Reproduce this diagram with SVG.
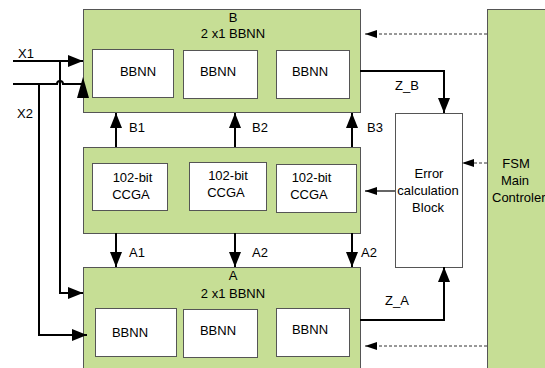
<svg xmlns="http://www.w3.org/2000/svg" width="545" height="368" viewBox="0 0 545 368">
<style>
.grn{fill:#C6DE95;stroke:#555;stroke-width:1}
.wb{fill:#fff;stroke:#555;stroke-width:1}
.t{font-family:"Liberation Sans",Arial,sans-serif;font-size:13px;fill:#000}
.m{text-anchor:middle}
.ln{fill:none;stroke:#000;stroke-width:2}
.th{fill:none;stroke:#000;stroke-width:1.2}
.ds{fill:none;stroke:#333;stroke-width:1;stroke-dasharray:3,2}
</style>
<defs>
<marker id="big" markerUnits="userSpaceOnUse" markerWidth="15" markerHeight="12" refX="15" refY="6" orient="auto"><path d="M0,0 L15,6 L0,12 z" fill="#000"/></marker>
<marker id="sm" markerUnits="userSpaceOnUse" markerWidth="12" markerHeight="8" refX="12" refY="4" orient="auto"><path d="M0,0 L12,4 L0,8 z" fill="#000"/></marker>
</defs>
<g id="nodeB">
<rect class="grn" x="83.5" y="9.5" width="277" height="103"/>
<text class="t m" x="233" y="22">B</text>
<text class="t m" x="233" y="38">2 x1 BBNN</text>
<rect class="wb" x="92.5" y="49.5" width="81" height="48"/>
<text class="t m" x="138" y="76">BBNN</text>
<rect class="wb" x="183.5" y="50.5" width="74" height="48"/>
<text class="t m" x="218" y="76">BBNN</text>
<rect class="wb" x="276.5" y="50.5" width="73" height="48"/>
<text class="t m" x="310" y="76">BBNN</text>
</g>
<g id="nodeCCGA">
<rect class="grn" x="83.5" y="147.5" width="277" height="86"/>
<rect class="wb" x="92.5" y="163.5" width="75" height="47"/>
<text class="t m" x="132.5" y="182">102-bit</text>
<text class="t m" x="131" y="199">CCGA</text>
<rect class="wb" x="189.5" y="162.5" width="77" height="48"/>
<text class="t m" x="228" y="180">102-bit</text>
<text class="t m" x="226" y="197">CCGA</text>
<rect class="wb" x="276.5" y="164.5" width="80" height="48"/>
<text class="t m" x="311.5" y="182">102-bit</text>
<text class="t m" x="309" y="199">CCGA</text>
</g>
<g id="nodeA">
<rect class="grn" x="83.5" y="267.5" width="277" height="110"/>
<text class="t m" x="233" y="280">A</text>
<text class="t m" x="233" y="298">2 x1 BBNN</text>
<rect class="wb" x="95.5" y="308.5" width="81" height="48"/>
<text class="t m" x="130" y="337">BBNN</text>
<rect class="wb" x="183.5" y="309.5" width="74" height="48"/>
<text class="t m" x="218" y="335">BBNN</text>
<rect class="wb" x="276.5" y="308.5" width="73" height="48"/>
<text class="t m" x="310" y="334">BBNN</text>
</g>
<g id="nodeErr">
<rect class="wb" x="395.5" y="113.5" width="67" height="154"/>
<text class="t m" x="429" y="178">Error</text>
<text class="t m" x="428" y="195">calculation</text>
<text class="t m" x="428" y="212">Block</text>
</g>
<g id="nodeFSM">
<rect class="grn" x="487.5" y="9.5" width="70" height="370" stroke="#777"/>
<text class="t m" x="516" y="168">FSM</text>
<text class="t m" x="515" y="185">Main</text>
<text class="t" x="492" y="202">Controler</text>
</g>
<g id="connectors">
<line class="ln" x1="116" y1="147" x2="116" y2="113" marker-end="url(#big)"/>
<line class="ln" x1="235" y1="147" x2="235" y2="113" marker-end="url(#big)"/>
<line class="ln" x1="352" y1="147" x2="352" y2="113" marker-end="url(#big)"/>
<line class="ln" x1="116" y1="233" x2="116" y2="267" marker-end="url(#big)"/>
<line class="ln" x1="235" y1="233" x2="235" y2="267" marker-end="url(#big)"/>
<line class="ln" x1="352" y1="233" x2="352" y2="267" marker-end="url(#big)"/>
<path class="ln" d="M360,71 H444 V113" marker-end="url(#big)"/>
<path class="ln" d="M360,320 H444 V267" marker-end="url(#big)"/>
<line class="th" x1="395" y1="191" x2="365" y2="191" marker-end="url(#sm)"/>
<line class="ds" x1="487" y1="34" x2="365" y2="34" marker-end="url(#sm)"/>
<line class="ds" x1="487" y1="163" x2="462" y2="163" marker-end="url(#sm)"/>
<line class="ds" x1="487" y1="346" x2="365" y2="346" marker-end="url(#sm)"/>
<line class="ln" x1="13" y1="61" x2="83" y2="61" marker-end="url(#big)"/>
<path class="ln" d="M60,61 V293 H83" marker-end="url(#big)"/>
<path class="ln" d="M13,84 H57 A3,3 0 0 1 63,84 H83"/>
<polygon points="83,77 77,98 89,98" fill="#000"/>
<path class="ln" d="M39,84 V335 H87" marker-end="url(#big)"/>
<text class="t" x="18" y="58">X1</text>
<text class="t" x="17" y="118">X2</text>
<text class="t" x="129" y="132">B1</text>
<text class="t" x="252" y="132">B2</text>
<text class="t" x="367" y="132">B3</text>
<text class="t" x="129" y="257">A1</text>
<text class="t" x="252" y="257">A2</text>
<text class="t" x="361" y="257">A2</text>
<text class="t" x="395" y="90">Z_B</text>
<text class="t" x="385" y="305">Z_A</text>
</g>
</svg>
